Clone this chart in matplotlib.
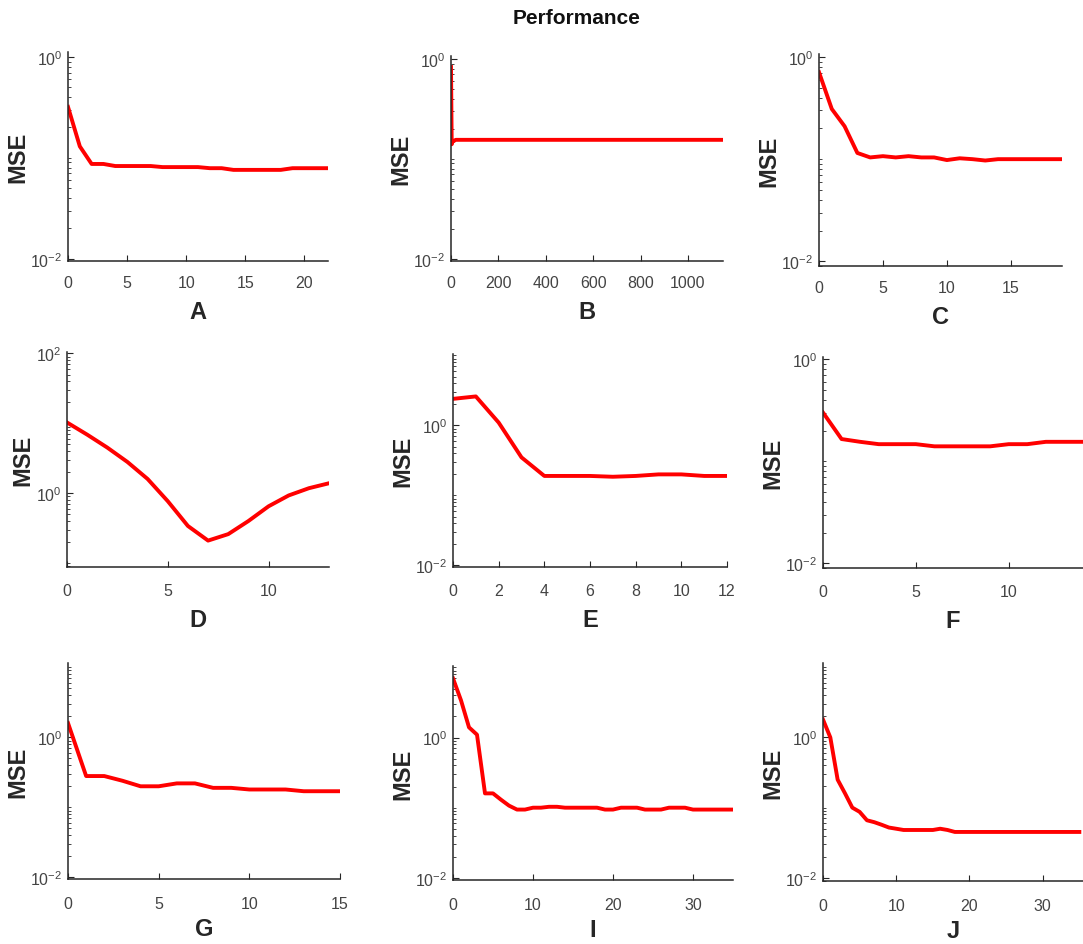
import math
import matplotlib
matplotlib.use('Agg')
import matplotlib.pyplot as plt
from matplotlib.ticker import MultipleLocator, FixedLocator, LogLocator, NullFormatter

plt.rcParams['font.family'] = ['Liberation Sans Narrow', 'Liberation Sans', 'DejaVu Sans']
plt.rcParams['mathtext.default'] = 'regular'
plt.rcParams['axes.unicode_minus'] = False

# MSE per epoch
a_x = list(range(23))
a_y = [0.32, 0.13, 0.087, 0.087, 0.083, 0.083, 0.083, 0.083, 0.081, 0.081, 0.081, 0.081,
       0.079, 0.079, 0.076, 0.076, 0.076, 0.076, 0.076, 0.079, 0.079, 0.079, 0.079]

b_x = [0, 3, 6, 10, 20, 1148]
b_y = [0.83, 0.14, 0.15, 0.15, 0.155, 0.155]

c_x = list(range(20))
c_y = [0.71, 0.31, 0.21, 0.115, 0.104, 0.107, 0.104, 0.107, 0.104, 0.104,
       0.098, 0.102, 0.100, 0.097, 0.100, 0.100, 0.100, 0.100, 0.100, 0.100]

d_x = list(range(14))
d_y = [10.3, 6.9, 4.5, 2.8, 1.6, 0.77, 0.34, 0.21, 0.26, 0.40, 0.65, 0.93, 1.18, 1.39]

e_x = list(range(13))
e_y = [2.4, 2.6, 1.1, 0.35, 0.19, 0.19, 0.19, 0.185, 0.19, 0.20, 0.20, 0.19, 0.19]

f_x = list(range(15))
f_y = [0.30, 0.165, 0.155, 0.147, 0.147, 0.147, 0.14, 0.14, 0.14, 0.14,
       0.147, 0.147, 0.155, 0.155, 0.155]

g_x = list(range(16))
g_y = [1.6, 0.28, 0.28, 0.24, 0.20, 0.20, 0.22, 0.22, 0.19, 0.19,
       0.18, 0.18, 0.18, 0.17, 0.17, 0.17]

i_x = list(range(36))
i_y = [7.0, 3.4, 1.4, 1.1, 0.16, 0.16, 0.13, 0.107, 0.094, 0.094,
       0.10, 0.10, 0.103, 0.103, 0.10, 0.10, 0.10, 0.10, 0.10, 0.094,
       0.094, 0.10, 0.10, 0.10, 0.094, 0.094, 0.094, 0.10, 0.10, 0.10,
       0.094, 0.094, 0.094, 0.094, 0.094, 0.094]

j_x = list(range(36))
j_y = [1.8, 1.0, 0.25, 0.16, 0.10, 0.087, 0.066, 0.062, 0.057, 0.052,
       0.050, 0.048, 0.048, 0.048, 0.048, 0.048, 0.050, 0.048, 0.045, 0.045,
       0.045, 0.045, 0.045, 0.045, 0.045, 0.045, 0.045, 0.045, 0.045, 0.045,
       0.045, 0.045, 0.045, 0.045, 0.045, 0.045]

W, H = 1083, 945
fig = plt.figure(figsize=(W / 100, H / 100), dpi=100)

# name, x, y, pixel box (left, top, right, bottom), ylim, labelled decades, xlim, x step, row
panels = [
    ('A', a_x, a_y, (68, 53, 328, 262), (0.0095, 1.12), [1e-2, 1e0], 22, 5, 0),
    ('B', b_x, b_y, (451, 57, 723, 262), (0.0095, 1.07), [1e-2, 1e0], 1148, 200, 0),
    ('C', c_x, c_y, (819, 55, 1062, 267), (0.0090, 1.07), [1e-2, 1e0], 19, 5, 0),
    ('D', d_x, d_y, (67, 353, 329, 568), (0.088, 105), [1e0, 1e2], 13, 5, 1),
    ('E', e_x, e_y, (453, 355, 727, 568), (0.0095, 10.5), [1e-2, 1e0], 12, 2, 1),
    ('F', f_x, f_y, (823, 358, 1083, 569), (0.0090, 1.05), [1e-2, 1e0], 14, 5, 1),
    ('G', g_x, g_y, (68, 664, 340, 880), (0.0095, 11.5), [1e-2, 1e0], 15, 5, 2),
    ('I', i_x, i_y, (453, 667, 733, 881), (0.0093, 10.5), [1e-2, 1e0], 35, 10, 2),
    ('J', j_x, j_y, (823, 664, 1083, 882), (0.0090, 11.5), [1e-2, 1e0], 35.5, 10, 2),
]
tick_pad = [10, 11.5, 12.5]
label_pad = [7, 7, 4]

for name, x, y, (l, t, r, b), ylim, majors, xmax, xstep, row in panels:
    ax = fig.add_axes([l / W, 1 - b / H, (r - l) / W, (b - t) / H])
    ax.plot(x, y, color='#ff0000', lw=2.8, solid_joinstyle='round')
    ax.set_yscale('log')
    ax.set_ylim(*ylim)
    ax.set_xlim(0, xmax)
    ax.xaxis.set_major_locator(MultipleLocator(xstep))
    ax.yaxis.set_major_locator(FixedLocator(majors))
    ax.set_yticklabels([r'$10^{%d}$' % round(math.log10(m)) for m in majors])
    ax.yaxis.set_minor_locator(LogLocator(base=10, subs=range(1, 10), numticks=20))
    ax.yaxis.set_minor_formatter(NullFormatter())
    for s in ('top', 'right'):
        ax.spines[s].set_visible(False)
    for s in ('left', 'bottom'):
        ax.spines[s].set_color('#262626')
        ax.spines[s].set_linewidth(1.1)
    ax.tick_params(which='both', direction='in', color='#262626', labelcolor='#444444',
                   labelsize=11.5)
    ax.tick_params(axis='x', which='major', length=4, pad=tick_pad[row])
    ax.tick_params(axis='y', which='major', length=4, pad=4)
    ax.tick_params(axis='y', which='minor', length=2)
    ax.set_ylabel('MSE', fontsize=17, fontweight='bold', color='#262626',
                  family=['Liberation Sans', 'DejaVu Sans'], labelpad=1)
    ax.set_xlabel(name, fontsize=17, fontweight='bold', color='#262626',
                  family=['Liberation Sans', 'DejaVu Sans'], labelpad=label_pad[row])

fig.text(577 / W, 1 - 18 / H, 'Performance', ha='center', va='center', fontsize=15,
         fontweight='bold', color='#111111', family=['Liberation Sans', 'DejaVu Sans'])

fig.savefig('out.png', dpi=100)
